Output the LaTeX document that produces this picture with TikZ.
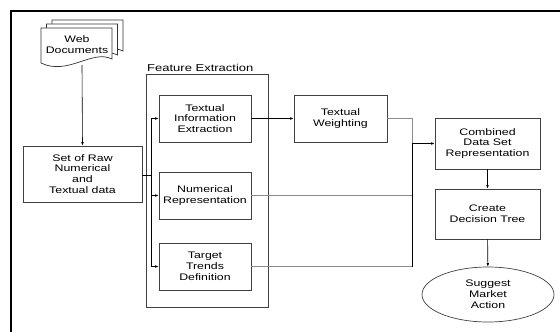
\documentclass[tikz,border=0pt]{standalone}
\usepackage{fontspec}
\setmainfont{Liberation Sans}[FakeStretch=1.3]
\usetikzlibrary{arrows.meta,positioning,shapes.geometric,calc}

\tikzset{
  stage/.style={draw=black!75, line width=0.7pt, align=center, inner sep=1pt,
    minimum width=92pt, minimum height=47pt, font=\fontsize{9.5}{10.8}\selectfont},
  link/.style={draw=black, line width=0.6pt},
  feed/.style={draw=black!45, line width=0.9pt},
  tip/.style={-{Latex[length=3.5pt,width=2.6pt]}}
}

\begin{document}
\begin{tikzpicture}[x=1pt,y=-1pt]
  \useasboundingbox (0,0) rectangle (560,332);
  % frame
  \draw[line width=2.4pt] (11,332) -- (11,11) -- (560,11);

  % web documents (stacked pages)
  \foreach \d in {2,1,0} {
    \filldraw[fill=white, draw=black!80, line width=0.7pt]
      ($(41,63)+(5.5*\d,-4*\d)$) -- ($(41,28)+(5.5*\d,-4*\d)$)
      -- ($(112,28)+(5.5*\d,-4*\d)$) -- ($(112,59)+(5.5*\d,-4*\d)$)
      .. controls ($(92,49)+(5.5*\d,-4*\d)$) and ($(68,76)+(5.5*\d,-4*\d)$)
      .. ($(41,63)+(5.5*\d,-4*\d)$) -- cycle;
  }
  \node[align=center, font=\fontsize{9.5}{10.8}\selectfont] (webdocs) at (77,45) {Web\\Documents};
  \coordinate (wdbot) at (82,65);

  % feature extraction block
  \node[draw=black!75, line width=0.7pt, minimum width=122pt, minimum height=233pt] (feature) at (207,190.5) {};
  \node[anchor=base west, inner sep=0pt, font=\fontsize{10}{12}\selectfont] (featuretitle) at (147,71) {Feature Extraction};

  \node[stage, minimum width=119pt, minimum height=56pt] (rawdata) at (82.5,174) {Set of Raw\\Numerical\\and\\Textual data};
  \node[stage] (textinfo) at (205,118.5) {Textual\\Information\\Extraction};
  \node[stage] (numrep) at (205,195.5) {Numerical\\Representation};
  \node[stage] (targets) at (205,266.5) {Target\\Trends\\Definition};
  \node[stage, minimum width=93pt] (weighting) at (340.5,118.5) {Textual\\Weighting};
  \node[stage, minimum width=105pt, minimum height=51pt] (combined) at (487.5,143.5) {Combined\\Data Set\\Representation};
  \node[stage, minimum width=105pt, minimum height=50pt] (dtree) at (487.5,214) {Create\\Decision Tree};
  \node[stage, ellipse, minimum width=132pt, minimum height=55pt] (action) at (488,294.5) {Suggest\\Market\\Action};

  \coordinate (split) at (151,175);
  \coordinate (join) at (412,143.5);

  % connectors
  \draw[link, tip] (wdbot) -- (rawdata.north);
  \draw[link] (rawdata.east |- split) -- (split);
  \draw[link, tip] (split) |- (textinfo.west);
  \draw[link, tip] (split) |- (numrep.west);
  \draw[link, tip] (split) |- (targets.west);
  \draw[link, tip] (textinfo.east) -- (weighting.west);
  \draw[feed] (weighting.east) -| (join);
  \draw[feed] (numrep.east) -- (numrep.east -| join);
  \draw[feed] (targets.east) -- (targets.east -| join);
  \draw[link] (targets.east -| join) -- (join);
  \draw[link, tip] (join) -- (combined.west);
  \draw[link, tip] (combined) -- (dtree);
  \draw[link, tip] (dtree) -- (action);
\end{tikzpicture}
\end{document}
